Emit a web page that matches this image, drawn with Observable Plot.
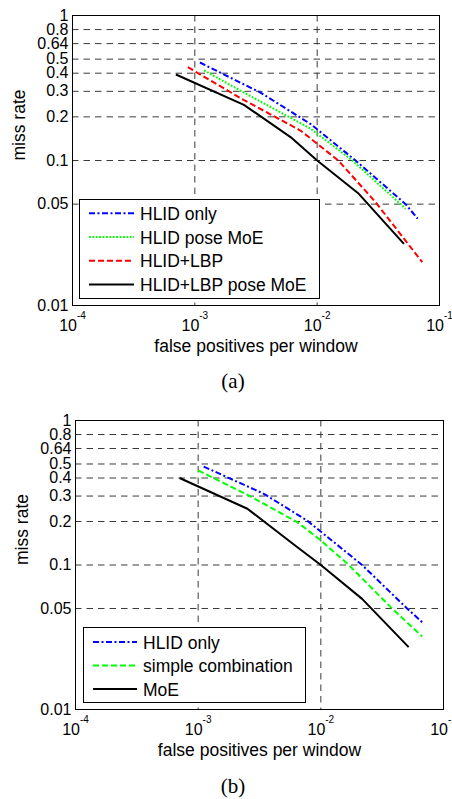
<!DOCTYPE html>
<html>
<head>
<meta charset="utf-8">
<script src="https://cdn.jsdelivr.net/npm/d3@7"></script>
<script src="https://cdn.jsdelivr.net/npm/@observablehq/plot@0.6"></script>
<style>
html, body { margin: 0; padding: 0; background: #fff; overflow: hidden; }
#page { position: relative; width: 452px; height: 799px; overflow: hidden; background: #fff; }
.panel { position: absolute; left: 0; }
.cap { position: absolute; left: 0; width: 466px; text-align: center;
       font-family: "Liberation Serif", "Times New Roman", serif; font-size: 21px; line-height: 21px; }
</style>
</head>
<body>
<div id="page"></div>
<script>
// ---------- tick labels / grid ----------
const yTicks = [0.01, 0.05, 0.1, 0.2, 0.3, 0.4, 0.5, 0.64, 0.8, 1];
const yGrid = [0.05, 0.1, 0.2, 0.3, 0.4, 0.5, 0.64, 0.8];
const xTicks = [1e-4, 1e-3, 1e-2, 1e-1];
const xGrid = [1e-3, 1e-2];
const xLabel = "false positives per window";
const yLabel = "miss rate";

// ---------- panel (a) ----------
const aNames = ["HLID only", "HLID pose MoE", "HLID+LBP", "HLID+LBP pose MoE"];
const aHlidX = [1.1e-3, 3.44e-3, 8.8e-3, 0.0206, 0.0528, 0.0662];
const aHlidY = [0.474, 0.294, 0.179, 0.1, 0.05, 0.0398];
const aPoseX = [1.19e-3, 2.5e-3, 8.8e-3, 0.0194, 0.0481, 0.0528];
const aPoseY = [0.418, 0.295, 0.166, 0.1, 0.05, 0.0464];
const aLbpX = [8.77e-4, 2.5e-3, 7.3e-3, 0.0149, 0.030, 0.0723];
const aLbpY = [0.44, 0.262, 0.161, 0.1, 0.0516, 0.0199];
const aMoeX = [7.0e-4, 2.52e-3, 6.06e-3, 0.01, 0.0219, 0.0512];
const aMoeY = [0.392, 0.242, 0.145, 0.1, 0.0589, 0.0266];

// ---------- panel (b) ----------
const bNames = ["HLID only", "simple combination", "MoE"];
const bHlidX = [1.11e-3, 3.43e-3, 7.73e-3, 0.0217, 0.0505, 0.067];
const bHlidY = [0.48, 0.311, 0.203, 0.1, 0.05, 0.0402];
const bSimpleX = [1.0e-3, 2.58e-3, 6.41e-3, 0.01, 0.0169, 0.0381, 0.067];
const bSimpleY = [0.451, 0.303, 0.198, 0.148, 0.1, 0.05, 0.032];
const bMoeX = [7.05e-4, 2.52e-3, 6.21e-3, 0.01, 0.0217, 0.052];
const bMoeY = [0.4, 0.245, 0.136, 0.1, 0.0583, 0.027];

// ---------- styles ----------
const sBlue = {color: "#0000ff", dash: "6,2.5,2,2.5"};
const sGreenDot = {color: "#00ff00", dash: "1.8,1.6"};
const sGreenDash = {color: "#00ff00", dash: "6,3"};
const sRed = {color: "#ff0000", dash: "6,3"};
const sBlack = {color: "#000000", dash: null};

const FONT = '"Liberation Sans", Arial, Helvetica, sans-serif';
const TICK_FS = 16;
const LABEL_FS = 17.5;
const GRID = {stroke: "#3a3a3a", strokeOpacity: 1, strokeWidth: 1, strokeDasharray: "6.5,5"};

function pts(xs, ys) { return xs.map((x, i) => ({x, y: ys[i]})); }

function makePanel(cfg) {
  const marks = [Plot.gridY(yGrid, GRID), Plot.gridX(xGrid, GRID)];
  cfg.series.forEach(s => {
    marks.push(Plot.line(pts(s.x, s.y), {
      x: "x", y: "y", stroke: s.style.color, strokeWidth: 2,
      strokeDasharray: s.style.dash, strokeLinecap: "butt", strokeLinejoin: "round"
    }));
  });
  marks.push(Plot.axisY(yTicks, {
    tickSize: 0, tickPadding: 4, text: d => String(d), fontSize: TICK_FS, label: null
  }));
  marks.push(Plot.axisX(xTicks, {
    tickSize: 0, tickPadding: 14.5, fontSize: TICK_FS,
    text: d => "10^" + Math.round(Math.log10(d)), label: null
  }));
  marks.push(Plot.text([xLabel], {
    frameAnchor: "bottom", dy: 41, text: d => d, fontSize: LABEL_FS, lineAnchor: "middle"
  }));
  marks.push(Plot.text([yLabel], {
    frameAnchor: "left", dx: cfg.yLabelDx, rotate: -90, text: d => d, fontSize: LABEL_FS, lineAnchor: "middle"
  }));
  marks.push(Plot.frame({stroke: "#000", strokeWidth: 1}));

  const svg = Plot.plot({
    width: 452, height: cfg.height,
    marginTop: cfg.marginTop, marginBottom: cfg.marginBottom,
    marginLeft: cfg.marginLeft, marginRight: cfg.marginRight,
    x: {type: "log", domain: [1e-4, 1e-1]},
    y: {type: "log", domain: [0.01, 1]},
    style: {fontFamily: FONT, fontSize: TICK_FS + "px", color: "#000", background: "transparent", overflow: "visible"},
    marks
  });

  // superscript exponents on x tick labels
  d3.select(svg).selectAll('g[aria-label="x-axis tick label"] text').each(function() {
    const t = d3.select(this);
    const parts = this.textContent.split("^");
    if (parts.length === 2) {
      t.text(parts[0]);
      t.append("tspan").attr("dy", "-12").attr("font-size", "10px").text(parts[1]);
    }
  });

  // legend box
  const L = cfg.legend;
  const g = d3.select(svg).append("g").attr("aria-label", "legend");
  g.append("rect").attr("x", L.x).attr("y", L.y).attr("width", L.w).attr("height", L.h)
    .attr("fill", "#fff").attr("stroke", "#000").attr("stroke-width", 1);
  cfg.series.forEach((s, i) => {
    const cy = L.row0 + i * L.step;
    g.append("line").attr("x1", L.lx1).attr("x2", L.lx2).attr("y1", cy).attr("y2", cy)
      .attr("stroke", s.style.color).attr("stroke-width", 2)
      .attr("stroke-dasharray", s.style.dash);
    g.append("text").attr("x", L.tx).attr("y", cy + 6.5)
      .attr("text-anchor", "start")
      .attr("font-family", FONT).attr("font-size", LABEL_FS).attr("fill", "#000").text(s.name);
  });
  return svg;
}

const page = document.getElementById("page");

const seriesA = [
  {name: aNames[0], x: aHlidX, y: aHlidY, style: sBlue},
  {name: aNames[1], x: aPoseX, y: aPoseY, style: sGreenDot},
  {name: aNames[2], x: aLbpX, y: aLbpY, style: sRed},
  {name: aNames[3], x: aMoeX, y: aMoeY, style: sBlack}
];
const seriesB = [
  {name: bNames[0], x: bHlidX, y: bHlidY, style: sBlue},
  {name: bNames[1], x: bSimpleX, y: bSimpleY, style: sGreenDash},
  {name: bNames[2], x: bMoeX, y: bMoeY, style: sBlack}
];

const svgA = makePanel({
  series: seriesA, height: 360, marginTop: 15, marginBottom: 55, marginLeft: 72, marginRight: 13,
  yLabelDx: -53.6,
  legend: {x: 79.5, y: 199.5, w: 240, h: 99, row0: 213.3, step: 23.7, lx1: 89, lx2: 134, tx: 140}
});
const divA = document.createElement("div");
divA.className = "panel"; divA.style.top = "0px";
divA.appendChild(svgA); page.appendChild(divA);

const capA = document.createElement("div");
capA.className = "cap"; capA.style.top = "371.4px"; capA.textContent = "(a)";
page.appendChild(capA);

const svgB = makePanel({
  series: seriesB, height: 364, marginTop: 20, marginBottom: 55, marginLeft: 75, marginRight: 9,
  yLabelDx: -53.3,
  legend: {x: 83.5, y: 227.5, w: 222, h: 75, row0: 242, step: 23.5, lx1: 93, lx2: 137, tx: 143}
});
const divB = document.createElement("div");
divB.className = "panel"; divB.style.top = "400px";
divB.appendChild(svgB); page.appendChild(divB);

const capB = document.createElement("div");
capB.className = "cap"; capB.style.top = "776.4px"; capB.textContent = "(b)";
page.appendChild(capB);
</script>
</body>
</html>
